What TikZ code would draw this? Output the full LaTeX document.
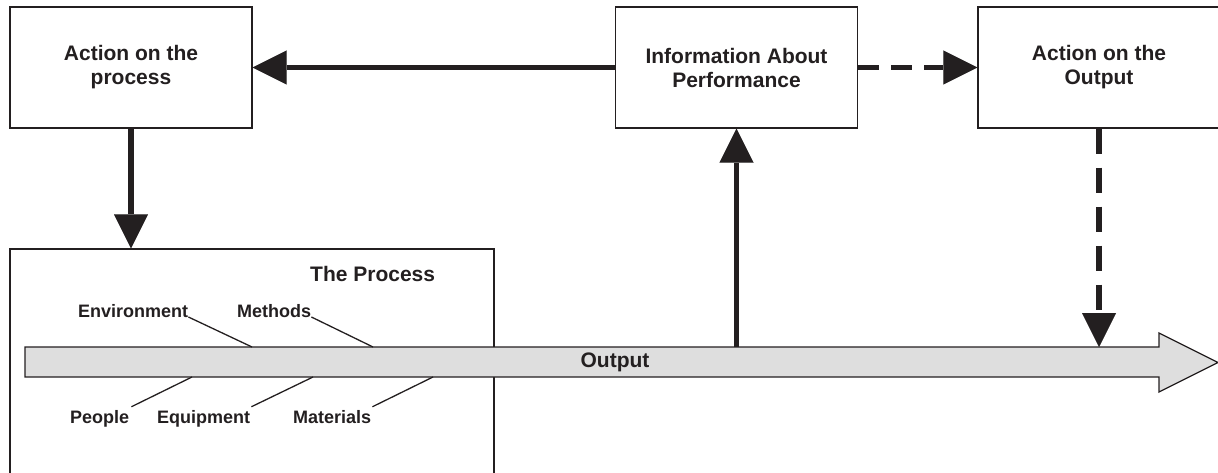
\documentclass[tikz,border=0pt]{standalone}
\usepackage{fontspec}
\setmainfont{Liberation Sans}
\usetikzlibrary{arrows.meta,calc}
\definecolor{ink}{HTML}{231F20}
\definecolor{barfill}{HTML}{DEDEDE}
\begin{document}
\begin{tikzpicture}[x=1pt,y=-1pt,
  box/.style={draw=ink,line width=1.3pt,minimum width=242pt,minimum height=121pt,
    align=center,text=ink,font=\fontsize{21}{24}\selectfont\bfseries,inner sep=0pt},
  lbl/.style={text=ink,font=\fontsize{18}{21}\selectfont\bfseries,inner sep=0pt},
  bigarrow/.style={draw=ink,line width=5.5pt,
    -{Triangle[length=34pt,width=34pt,line width=0.01pt]}},
  dashh/.style={bigarrow,dash pattern=on 21pt off 12pt},
  dashv/.style={bigarrow,dash pattern=on 25pt off 14pt},
  bone/.style={draw=ink,line width=1.3pt},
]
\useasboundingbox (0,0) rectangle (1218,473);
% boxes
\node[box] (act1) at (131,67.5) {Action on the\\process};
\node[box] (info) at (736.5,67.5) {Information About\\Performance};
\node[box] (act2) at (1099,67.5) {Action on the\\Output};
\node[draw=ink,line width=1.3pt,minimum width=484pt,minimum height=227pt,inner sep=0pt] (proc) at (252,362.5) {};
\node[lbl,font=\fontsize{21}{24}\selectfont\bfseries,anchor=base west] (ptitle) at (310,281) {The Process};
% output bar
\coordinate (bartop) at (0,347);
\coordinate (barbot) at (0,377);
\draw[draw=ink,fill=barfill,line width=1.3pt,line join=miter]
  (25,347) -- (1159,347) -- (1159,333) -- (1218,362.5) -- (1159,392) -- (1159,377) -- (25,377) -- cycle;
\node[lbl,font=\fontsize{21}{24}\selectfont\bfseries] (outlbl) at (615,362) {Output};
% fishbone labels
\node[lbl,anchor=base west] (env) at (78,317) {Environment};
\node[lbl,anchor=base west] (meth) at (237,317) {Methods};
\node[lbl,anchor=base west] (ppl) at (70,423) {People};
\node[lbl,anchor=base west] (equ) at (157,423) {Equipment};
\node[lbl,anchor=base west] (mat) at (293,423) {Materials};
\coordinate (e1) at (252,347);
\coordinate (e2) at (373,347);
\coordinate (e3) at (192,377);
\coordinate (e4) at (313,377);
\coordinate (e5) at (433,377);
\draw[bone] (env.base east) -- (e1);
\draw[bone] (meth.base east) -- (e2);
\draw[bone] ($(ppl.north east)+(2,-3)$) -- (e3);
\draw[bone] ($(equ.north east)+(1,-3)$) -- (e4);
\draw[bone] ($(mat.north east)+(1,-3)$) -- (e5);
% connectors
\draw[bigarrow] (info.west) -- (act1.east);
\draw[bigarrow] (act1.south) -- (act1.south |- proc.north);
\draw[bigarrow] (info.south |- bartop) -- (info.south);
\draw[dashh] (info.east) -- (act2.west);
\draw[dashv] (act2.south) -- (act2.south |- bartop);
\end{tikzpicture}
\end{document}
